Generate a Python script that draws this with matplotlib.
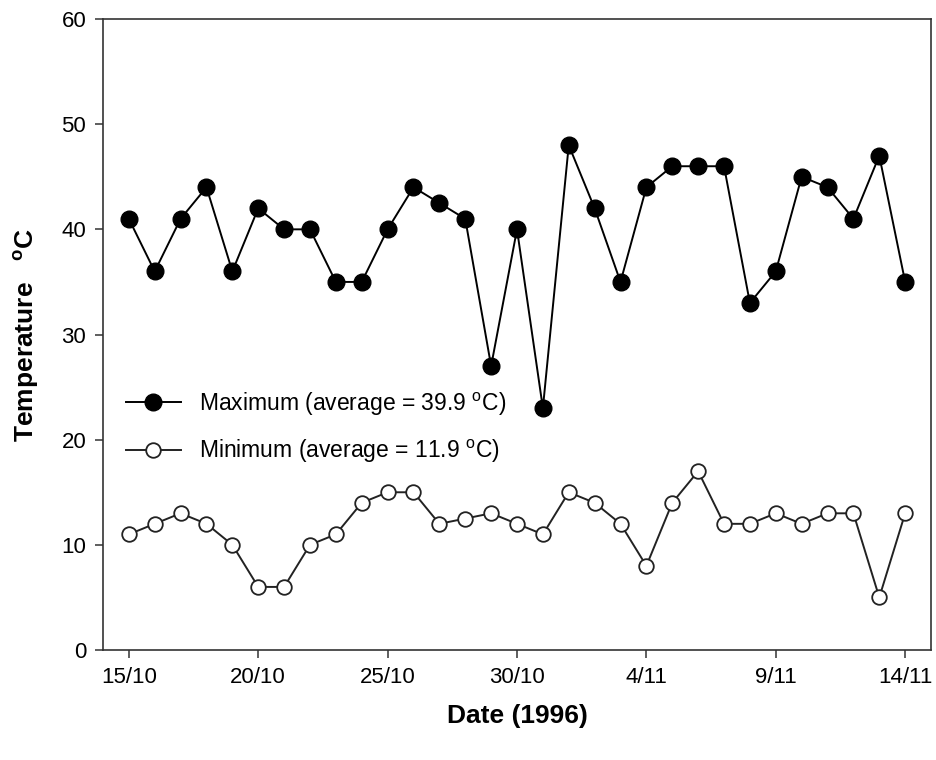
import pandas as pd
import matplotlib
matplotlib.use('Agg')
import matplotlib.pyplot as plt

# daily air temperature, 15 Oct - 14 Nov 1996
dates = pd.date_range('1996-10-15', '1996-11-14', freq='D')
t_max = [41, 36, 41, 44, 36, 42, 40, 40, 35, 35,
         40, 44, 42.5, 41, 27, 40, 23, 48, 42, 35,
         44, 46, 46, 46, 33, 36, 45, 44, 41, 47, 35]
t_min = [11, 12, 13, 12, 10, 6, 6, 10, 11, 14,
         15, 15, 12, 12.5, 13, 12, 11, 15, 14, 12,
         8, 14, 17, 12, 12, 13, 12, 13, 13, 5, 13]
tick_dates = pd.to_datetime(['1996-10-15', '1996-10-20', '1996-10-25', '1996-10-30',
                             '1996-11-04', '1996-11-09', '1996-11-14'])
tick_labels = ['15/10', '20/10', '25/10', '30/10', '4/11', '9/11', '14/11']

plt.rcParams['font.family'] = ['Liberation Sans', 'DejaVu Sans']
plt.rcParams['mathtext.fontset'] = 'custom'
plt.rcParams['mathtext.rm'] = 'Liberation Sans'
plt.rcParams['mathtext.bf'] = 'Liberation Sans:bold'

fig = plt.figure(figsize=(9.36, 7.6), dpi=100)
ax = fig.add_axes([0.110, 0.1447, 0.8847, 0.8303])

ax.plot(dates, t_max, '-o', color='black', lw=1.4, ms=12,
        mfc='black', mec='black', label=r'Maximum (average = 39.9 $^{\rm o}$C)')
ax.plot(dates, t_min, '-o', color='#222222', lw=1.4, ms=10.5,
        mfc='white', mec='#222222', mew=1.3,
        label=r'Minimum (average = 11.9 $^{\rm o}$C)')

ax.set_ylim(0, 60)
ax.set_yticks([0, 10, 20, 30, 40, 50, 60])
ax.set_xlim(pd.Timestamp('1996-10-14'), pd.Timestamp('1996-11-15'))
ax.set_xticks(tick_dates)
ax.set_xticklabels(tick_labels)

for s in ax.spines.values():
    s.set_linewidth(1.2)
    s.set_color('#333333')
ax.tick_params(direction='out', length=6, width=1.1, color='#333333',
               labelsize=16, pad=6)

ax.set_xlabel('Date (1996)', fontsize=19, fontweight='bold', labelpad=12)
ax.set_ylabel(r'Temperature   $\mathbf{^{o}}$C', fontsize=19, fontweight='bold',
              labelpad=15)

ax.legend(loc='upper left', bbox_to_anchor=(0.008, 0.437), frameon=False,
          fontsize=16.5, handlelength=2.4, handletextpad=0.8,
          labelspacing=0.87, borderaxespad=0.3)

fig.savefig('out.png', dpi=100)
